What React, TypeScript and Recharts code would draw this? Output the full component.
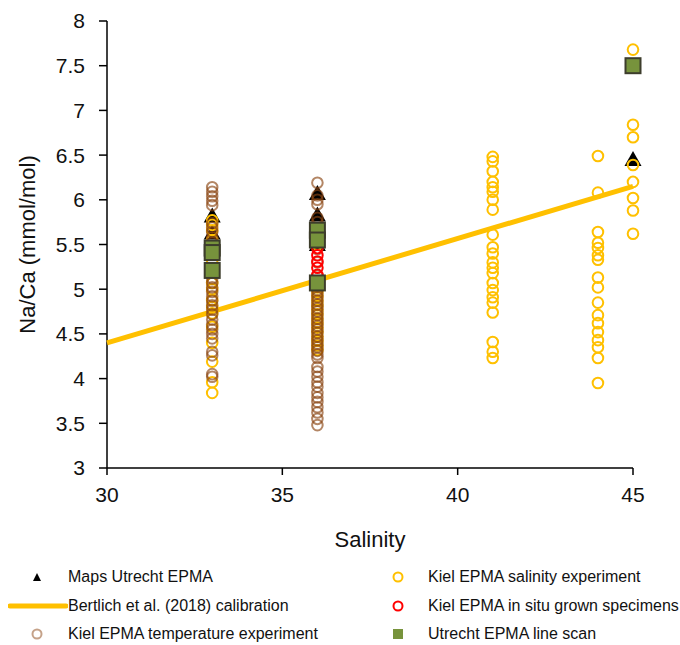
import React from 'react';
import { ScatterChart, Scatter, XAxis, YAxis } from 'recharts';

// axis ticks
const salinityTicks = [30, 35, 40, 45];
const naCaTicks = [3, 3.5, 4, 4.5, 5, 5.5, 6, 6.5, 7, 7.5, 8];

// Maps Utrecht EPMA (salinity, Na/Ca)
const mapsUtrecht: [number, number][] = [
  [33, 5.82], [33, 5.63],
  [36, 6.07], [36, 5.83], [36, 5.5],
  [45, 6.45],
];

// Kiel EPMA salinity experiment, per salinity
const salinity33 = [5.77, 5.72, 5.66, 5.55, 5.45, 5.3, 5.2, 5.07, 5.0, 4.88, 4.8, 4.73, 4.58, 4.4, 4.19, 3.96, 3.84];
const salinity36 = [5.6, 5.55, 5.5, 5.02, 4.97, 4.92, 4.87, 4.82, 4.77, 4.72, 4.67, 4.62, 4.57, 4.52, 4.47, 4.42, 4.37, 4.32];
const salinity41 = [6.48, 6.43, 6.32, 6.2, 6.14, 6.09, 6.0, 5.89, 5.61, 5.47, 5.4, 5.3, 5.24, 5.18, 5.07, 4.99, 4.91, 4.85, 4.74, 4.41, 4.3, 4.23];
const salinity44 = [6.49, 6.08, 5.64, 5.52, 5.46, 5.38, 5.33, 5.13, 5.02, 4.85, 4.71, 4.62, 4.52, 4.43, 4.35, 4.23, 3.95];
const salinity45 = [7.68, 6.84, 6.7, 6.39, 6.2, 6.02, 5.88, 5.62];

// Kiel EPMA temperature experiment
const temperature33 = [6.14, 6.09, 6.04, 5.99, 5.94, 5.74, 5.69, 5.64, 5.58, 5.52, 5.12, 5.07, 5.02, 4.97, 4.92, 4.87, 4.82, 4.77, 4.72, 4.66, 4.6, 4.55, 4.5, 4.45, 4.3, 4.26, 4.05, 4.02];
const temperature36 = [6.19, 6.05, 6.0, 5.95, 5.8, 5.75, 5.45, 5.3, 5.15, 5.03, 4.99, 4.95, 4.91, 4.87, 4.83, 4.79, 4.75, 4.71, 4.67, 4.63, 4.59, 4.55, 4.51, 4.47, 4.43, 4.39, 4.35, 4.31, 4.27, 4.23, 4.13, 4.08, 4.02, 3.96, 3.91, 3.84, 3.79, 3.74, 3.68, 3.62, 3.55, 3.48];

// Kiel EPMA in situ grown specimens (S = 36)
const inSitu36 = [5.46, 5.38, 5.31, 5.24, 5.16];

// Utrecht EPMA line scan
const lineScan: [number, number][] = [
  [33, 5.46], [33, 5.41], [33, 5.21],
  [36, 5.66], [36, 5.55], [36, 5.07],
  [45, 7.5],
];

// Bertlich et al. (2018) calibration end points
const calibS = [30, 45];
const calibNaCa = [4.4, 6.15];

const at = (s: number, vals: number[]) => vals.map(v => ({ s, v }));
const pairs = (arr: [number, number][]) => arr.map(([s, v]) => ({ s, v }));

const mapsData = pairs(mapsUtrecht);
const salinityData = [
  ...at(33, salinity33), ...at(36, salinity36), ...at(41, salinity41),
  ...at(44, salinity44), ...at(45, salinity45),
];
const temperatureData = [...at(33, temperature33), ...at(36, temperature36)];
const inSituData = at(36, inSitu36);
const lineScanData = pairs(lineScan);
const calibData = calibS.map((s, i) => ({ s, v: calibNaCa[i] }));

const YELLOW = '#FFC000';
const BROWN = '#8B4513';
const RED = '#FF0000';
const GREEN = '#77933C';

const ring = (color: string, opacity = 1) => (p: any) => (
  <circle cx={p.cx} cy={p.cy} r={5.3} fill="none" stroke={color} strokeOpacity={opacity} strokeWidth={2} />
);
const triangle = (p: any) => (
  <polygon points={`${p.cx},${p.cy - 8.5} ${p.cx - 8.5},${p.cy + 6.5} ${p.cx + 8.5},${p.cy + 6.5}`} fill="#000" />
);
const square = (p: any) => (
  <rect x={p.cx - 7.5} y={p.cy - 7.5} width={15} height={15} fill={GREEN} stroke="#3d3d2c" strokeWidth={2} />
);

const font = 'Liberation Sans, Arial, sans-serif';

const LegendItem = ({ marker, label }: { marker: React.ReactNode; label: string }) => (
  <div style={{ display: 'flex', alignItems: 'center', height: 28.5 }}>
    <svg width={60} height={20} style={{ flex: 'none' }}>{marker}</svg>
    <span>{label}</span>
  </div>
);

export default function App() {
  return (
    <div style={{ position: 'absolute', left: 0, top: 0, width: 680, height: 645, background: '#fff', fontFamily: font }}>
      <ScatterChart width={680} height={645} margin={{ top: 21, right: 47, left: 0, bottom: 87 }}>
        <XAxis
          type="number"
          dataKey="s"
          domain={[30, 45]}
          ticks={salinityTicks}
          height={90}
          stroke="#000"
          strokeWidth={1.5}
          tickSize={7}
          tickMargin={12}
          tick={{ fill: '#111', fontSize: 21, fontFamily: font }}
          label={{ value: 'Salinity', position: 'insideBottom', offset: 11, fill: '#111', fontSize: 22, fontFamily: font }}
        />
        <YAxis
          type="number"
          dataKey="v"
          domain={[3, 8]}
          ticks={naCaTicks}
          width={107}
          stroke="#000"
          strokeWidth={1.5}
          tickSize={8}
          tickMargin={14}
          tick={{ fill: '#111', fontSize: 21, fontFamily: font }}
          label={{ value: 'Na/Ca (mmol/mol)', angle: -90, position: 'insideLeft', offset: 27, fill: '#111', fontSize: 22, fontFamily: font, style: { textAnchor: 'middle' } }}
        />
        <Scatter data={mapsData} shape={triangle} isAnimationActive={false} />
        <Scatter data={salinityData} shape={ring(YELLOW)} isAnimationActive={false} />
        <Scatter data={calibData} line={{ stroke: YELLOW, strokeWidth: 5 }} shape={() => <g />} isAnimationActive={false} />
        <Scatter data={temperatureData} shape={ring(BROWN, 0.65)} isAnimationActive={false} />
        <Scatter data={inSituData} shape={ring(RED)} isAnimationActive={false} />
        <Scatter data={lineScanData} shape={square} isAnimationActive={false} />
      </ScatterChart>
      <div style={{ position: 'absolute', left: 8, top: 563, width: 672, display: 'grid', gridTemplateColumns: '360px 312px', fontSize: 16, color: '#111', whiteSpace: 'nowrap' }}>
        <LegendItem label="Maps Utrecht EPMA" marker={<polygon points="29,6 25,14 33,14" fill="#000" />} />
        <LegendItem label="Kiel EPMA salinity experiment" marker={<circle cx={30} cy={10} r={4.5} fill="none" stroke={YELLOW} strokeWidth={2} />} />
        <LegendItem label="Bertlich et al. (2018) calibration" marker={<line x1={2} y1={10} x2={58} y2={10} stroke={YELLOW} strokeWidth={5} strokeLinecap="round" />} />
        <LegendItem label="Kiel EPMA in situ grown specimens" marker={<circle cx={30} cy={10} r={4.5} fill="none" stroke={RED} strokeWidth={2} />} />
        <LegendItem label="Kiel EPMA temperature experiment" marker={<circle cx={29} cy={10} r={4.5} fill="none" stroke={BROWN} strokeOpacity={0.5} strokeWidth={2} />} />
        <LegendItem label="Utrecht EPMA line scan" marker={<rect x={25} y={5} width={10} height={10} fill={GREEN} />} />
      </div>
    </div>
  );
}
